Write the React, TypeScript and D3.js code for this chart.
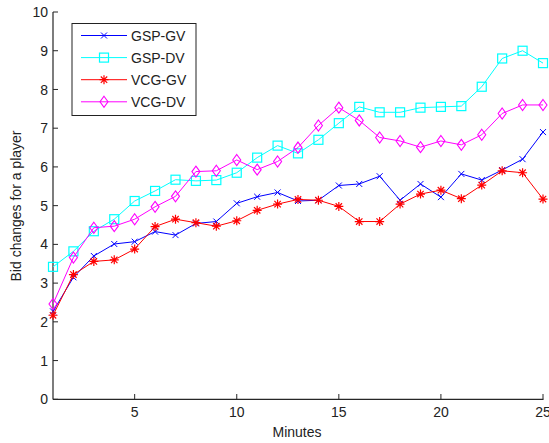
import React from "react";
import * as d3 from "d3";

const minutes = d3.range(1, 26);
const gspGV = [2.27, 3.15, 3.7, 4.01, 4.07, 4.33, 4.24, 4.54, 4.59, 5.06, 5.23, 5.34, 5.12, 5.14, 5.52, 5.56, 5.76, 5.14, 5.56, 5.22, 5.82, 5.66, 5.92, 6.2, 6.9];
const gspDV = [3.42, 3.82, 4.34, 4.65, 5.12, 5.38, 5.67, 5.64, 5.66, 5.85, 6.24, 6.55, 6.35, 6.7, 7.13, 7.55, 7.41, 7.41, 7.53, 7.55, 7.57, 8.07, 8.8, 9.0, 8.68];
const vcgGV = [2.17, 3.22, 3.56, 3.6, 3.88, 4.46, 4.65, 4.56, 4.47, 4.61, 4.88, 5.04, 5.16, 5.14, 4.98, 4.59, 4.59, 5.04, 5.3, 5.4, 5.18, 5.53, 5.9, 5.85, 5.17];
const vcgDV = [2.46, 3.66, 4.43, 4.47, 4.65, 4.97, 5.24, 5.88, 5.9, 6.18, 5.93, 6.14, 6.5, 7.07, 7.53, 7.2, 6.76, 6.67, 6.51, 6.67, 6.57, 6.83, 7.38, 7.6, 7.6];
const seriesNames = ["GSP-GV", "GSP-DV", "VCG-GV", "VCG-DV"];
const seriesColors = ["#0000ff", "#00ffff", "#ff0000", "#ff00ff"];
const seriesMarkers = ["x", "square", "star", "diamond"];
const xTicks = [5, 10, 15, 20, 25];
const yTicks = [0, 1, 2, 3, 4, 5, 6, 7, 8, 9, 10];

const W = 549, H = 443;
const x = d3.scaleLinear().domain([1, 25]).range([53, 543]);
const y = d3.scaleLinear().domain([0, 10]).range([399.3, 12]);
const FONT = "'Liberation Sans', Arial, sans-serif";

function Marker({ kind, cx, cy, color }: { kind: string; cx: number; cy: number; color: string }) {
  if (kind === "x") {
    const s = 3;
    return <path d={`M${cx - s},${cy - s}L${cx + s},${cy + s}M${cx - s},${cy + s}L${cx + s},${cy - s}`} stroke={color} strokeWidth={1} fill="none" />;
  }
  if (kind === "square") {
    const s = 4.5;
    return <rect x={cx - s} y={cy - s} width={2 * s} height={2 * s} stroke={color} strokeWidth={1.2} fill="none" />;
  }
  if (kind === "star") {
    const s = 4.5, d = 3.2;
    return <path d={`M${cx - s},${cy}L${cx + s},${cy}M${cx},${cy - s}L${cx},${cy + s}M${cx - d},${cy - d}L${cx + d},${cy + d}M${cx - d},${cy + d}L${cx + d},${cy - d}`} stroke={color} strokeWidth={1.2} fill="none" />;
  }
  const w = 4, h = 5.5;
  return <path d={`M${cx},${cy - h}L${cx + w},${cy}L${cx},${cy + h}L${cx - w},${cy}Z`} stroke={color} strokeWidth={1.1} fill="none" />;
}

export default function App() {
  const data = [gspGV, gspDV, vcgGV, vcgDV];
  const line = d3.line<number>().x((_, i) => x(minutes[i])).y((v) => y(v));
  const axisColor = "#262626";
  return (
    <svg width={W} height={H} style={{ position: "absolute", left: 0, top: 0, background: "#fff" }} fontFamily={FONT}>
      <rect x={0} y={0} width={W} height={H} fill="#fff" />
      {/* axes */}
      <line x1={53} y1={12} x2={53} y2={399.5} stroke={axisColor} strokeWidth={1.2} />
      <line x1={53} y1={399.3} x2={543.5} y2={399.3} stroke={axisColor} strokeWidth={1.2} />
      {yTicks.map((t) => (
        <g key={"y" + t}>
          <line x1={53} x2={58} y1={y(t)} y2={y(t)} stroke={axisColor} strokeWidth={1} />
          <text x={48} y={y(t)} dy="0.36em" textAnchor="end" fontSize={14} fill="#222">{t}</text>
        </g>
      ))}
      {xTicks.map((t) => (
        <g key={"x" + t}>
          <line x1={x(t)} x2={x(t)} y1={399.3} y2={394} stroke={axisColor} strokeWidth={1} />
          <text x={x(t)} y={417} textAnchor="middle" fontSize={14} fill="#222">{t}</text>
        </g>
      ))}
      <text x={297} y={437} textAnchor="middle" fontSize={14} fill="#222">Minutes</text>
      <text transform="translate(21,206) rotate(-90)" textAnchor="middle" fontSize={14} fill="#222">Bid changes for a player</text>
      {/* series */}
      {data.map((vals, si) => (
        <g key={seriesNames[si]}>
          <path d={line(vals) || ""} stroke={seriesColors[si]} strokeWidth={1} fill="none" />
          {vals.map((v, i) => (
            <Marker key={i} kind={seriesMarkers[si]} cx={x(minutes[i])} cy={y(v)} color={seriesColors[si]} />
          ))}
        </g>
      ))}
      {/* legend */}
      <rect x={72} y={23.5} width={124} height={92} fill="#fff" stroke="#222" strokeWidth={1} />
      {seriesNames.map((n, i) => {
        const cy = 35.5 + i * 22.1;
        return (
          <g key={"leg" + n}>
            <line x1={81} x2={127} y1={cy} y2={cy} stroke={seriesColors[i]} strokeWidth={1} />
            <Marker kind={seriesMarkers[i]} cx={104} cy={cy} color={seriesColors[i]} />
            <text x={131} y={cy} dy="0.36em" fontSize={14} fill="#222">{n}</text>
          </g>
        );
      })}
    </svg>
  );
}
